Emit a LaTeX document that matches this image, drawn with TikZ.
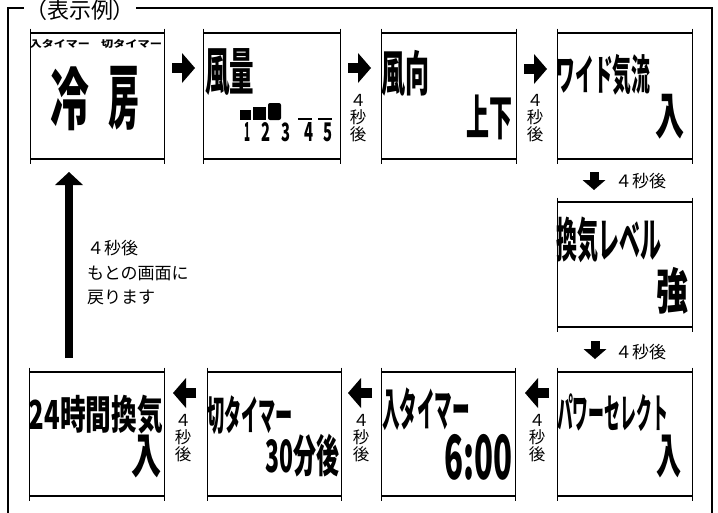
\documentclass[tikz,border=0pt]{standalone}
\usepackage{graphicx}
\usepackage{fontspec}
\newfontfamily\jp{Noto Sans CJK JP}
\usetikzlibrary{arrows.meta}
\newcommand\lcdt[3]{\resizebox*{#1pt}{#2pt}{\jp\bfseries #3}}
\newcommand\scr[5]{%
  \node[inner sep=0pt, outer sep=0pt, minimum width={(#3-#2)*1pt}, minimum height={(#5-#4)*1pt}] (#1) at ({(#2+#3)/2},{(#4+#5)/2}) {};
  \draw[hline] (#1.north west) -- (#1.north east) (#1.south west) -- (#1.south east);
  \draw[vline] ([yshift=4.5pt]#1.north west) -- ([yshift=-4.5pt]#1.south west)
               ([yshift=4.5pt]#1.north east) -- ([yshift=-4.5pt]#1.south east);
}
\begin{document}
\begin{tikzpicture}[x=1pt,y=-1pt,
  hline/.style={line width=2pt},
  vline/.style={line width=0.9pt},
  frame/.style={line width=2pt},
  lcd/.style={inner sep=0pt, anchor=center},
  vlab/.style={inner sep=0pt, align=center, font=\fontsize{16.5}{17}\selectfont\jp},
  dlab/.style={inner sep=0pt, anchor=west, font=\fontsize{17}{17}\selectfont\jp},
  rarrow/.style={line width=10pt, -{Triangle[width=30pt,length=13pt,line width=0pt]}},
  darrow/.style={line width=9pt, -{Triangle[width=23pt,length=10pt,line width=0pt]}},
  mainarrow/.style={line width=8pt, -{Triangle[width=28pt,length=13pt,line width=0pt]}}
]
\useasboundingbox (0,0) rectangle (718,512);
\fill[white] (0,0) rectangle (718,512);

% frame and header
\node[inner sep=1pt, font=\fontsize{22}{22}\selectfont\jp] (hdr) at (80,10) {（表示例）};
\draw[frame] (hdr.west |- 0,7.5) -- (8,7.5) -- (8,514);
\draw[frame] (hdr.east |- 0,7.5) -- (712,7.5) -- (712,514);

% screens
\scr{s1}{30}{164}{33}{159}
\scr{s2}{203}{340}{33}{159}
\scr{s3}{381}{516}{33}{159}
\scr{s4}{557}{692}{33}{159}
\scr{s5}{557}{692}{202}{327}
\scr{s6}{557}{692}{372}{496}
\scr{s7}{381}{515}{372}{496}
\scr{s8}{207}{341}{372}{496}
\scr{s9}{29}{164}{372}{496}

% screen 1
\node[lcd] (t1a) at (60,43.5) {\lcdt{60}{9}{入タイマー}};
\node[lcd] (t1b) at (131.5,43.5) {\lcdt{61}{9}{切タイマー}};
\node[lcd] (t1c) at (70,98.5) {\lcdt{39}{64}{冷}};
\node[lcd] (t1d) at (124,98.5) {\lcdt{31}{64}{房}};
% screen 2
\node[lcd] (t2a) at (229.5,72.5) {\lcdt{49}{47}{風量}};
\fill (240,110) rectangle (251,120);
\fill (253,107) rectangle (266,120);
\fill[rounded corners=2pt] (268,103) rectangle (281,120);
\fill (298,117.5) rectangle (312,120);
\fill (318,117.5) rectangle (332,120);
\node[lcd] (d1) at (247,132) {\lcdt{6}{19}{1}};
\node[lcd] (d2) at (266,132) {\lcdt{9}{19}{2}};
\node[lcd] (d3) at (286,132) {\lcdt{9}{19}{3}};
\node[lcd] (d4) at (309,132) {\lcdt{9}{19}{4}};
\node[lcd] (d5) at (328,132) {\lcdt{9}{19}{5}};
% screen 3
\node[lcd] (t3a) at (405,73) {\lcdt{48}{46}{風向}};
\node[lcd] (t3b) at (489,117.5) {\lcdt{46}{45}{上下}};
% screen 4
\node[lcd] (t4a) at (603.5,74.5) {\lcdt{94}{41}{ワイド気流}};
\node[lcd] (t4b) at (670,117) {\lcdt{29}{45}{入}};
% screen 5
\node[lcd] (t5a) at (608.5,240) {\lcdt{105}{46}{換気レベル}};
\node[lcd] (t5b) at (672.5,291) {\lcdt{32}{47}{強}};
% screen 6
\node[lcd] (t6a) at (612.5,413) {\lcdt{111}{38}{パワーセレクト}};
\node[lcd] (t6b) at (669,456) {\lcdt{25}{43}{入}};
% screen 7
\node[lcd] (t7a) at (426,409) {\lcdt{88}{43}{入タイマー}};
\node[lcd] (t7b) at (478.5,457) {\lcdt{68}{46}{6:00}};
% screen 8
\node[lcd] (t8a) at (250,415) {\lcdt{86}{39}{切タイマー}};
\node[lcd] (t8b) at (302,456) {\lcdt{74}{43}{30分後}};
% screen 9
\node[lcd] (t9a) at (96,415) {\lcdt{134}{39}{24時間換気}};
\node[lcd] (t9b) at (146.5,456) {\lcdt{30}{43}{入}};

% arrows top row
\coordinate (a1s) at (172,68); \coordinate (a1e) at (195,68);
\coordinate (a2s) at (348,68); \coordinate (a2e) at (371,68);
\coordinate (a3s) at (524,69); \coordinate (a3e) at (547,69);
\draw[rarrow] (a1s) -- (a1e);
\draw[rarrow] (a2s) -- (a2e);
\draw[rarrow] (a3s) -- (a3e);
\node[vlab] (l2) at (358,118) {４\\秒\\後};
\node[vlab] (l3) at (535,118) {４\\秒\\後};

% down arrows
\coordinate (d1s) at (594,172); \coordinate (d1e) at (594,190);
\coordinate (d2s) at (595,341); \coordinate (d2e) at (595,359);
\draw[darrow] (d1s) -- (d1e);
\draw[darrow] (d2s) -- (d2e);
\node[dlab] (l4) at (615,181) {４秒後};
\node[dlab] (l5) at (615,352) {４秒後};

% bottom row arrows
\coordinate (b1s) at (549,393); \coordinate (b1e) at (525,393);
\coordinate (b2s) at (372,393); \coordinate (b2e) at (348,393);
\coordinate (b3s) at (196,393); \coordinate (b3e) at (173,393);
\draw[rarrow] (b1s) -- (b1e);
\draw[rarrow] (b2s) -- (b2e);
\draw[rarrow] (b3s) -- (b3e);
\node[vlab] (l6) at (537,438) {４\\秒\\後};
\node[vlab] (l7) at (361,438) {４\\秒\\後};
\node[vlab] (l8) at (183,438) {４\\秒\\後};

% main return arrow
\coordinate (ms) at (69,358); \coordinate (me) at (69,172);
\draw[mainarrow] (ms) -- (me);
\node[inner sep=0pt, anchor=west, align=left, font=\fontsize{17}{24.5}\selectfont\jp] (ml) at (87,273) {４秒後\\もとの画面に\\戻ります};
\end{tikzpicture}
\end{document}
